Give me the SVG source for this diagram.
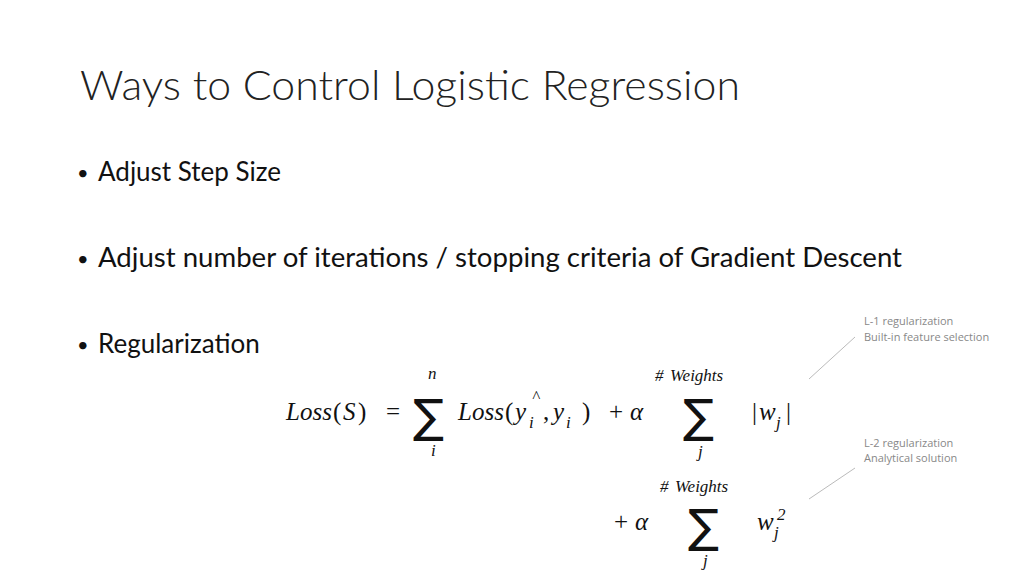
<svg xmlns="http://www.w3.org/2000/svg" width="1024" height="576" viewBox="0 0 1024 576">
<style>
.t{font-family:Lato,"Open Sans",sans-serif;font-weight:300;fill:#222}
.b{font-family:Lato,"Open Sans",sans-serif;font-size:26px;fill:#111}
.m{font-family:"Liberation Serif",serif;font-style:italic;font-size:25px;fill:#111}
.mu{font-family:"Liberation Serif",serif;font-size:25px;fill:#111}
.s{font-family:"DejaVu Sans",sans-serif;font-size:46px;fill:#111}
.sm{font-family:"Liberation Serif",serif;font-style:italic;font-size:17px;fill:#111}
.n{font-family:"Open Sans","Liberation Sans",sans-serif;font-size:11px;fill:#888}
</style>
<rect width="1024" height="576" fill="#fff"/>
<text class="t" x="80" y="100" font-size="42" textLength="660" lengthAdjust="spacingAndGlyphs">Ways to Control Logistic Regression</text>
<g class="b">
<text x="77" y="180" font-size="20">•</text><text x="98" y="181">Adjust Step Size</text>
<text x="77" y="266" font-size="20">•</text><text x="98" y="267" textLength="804" lengthAdjust="spacingAndGlyphs">Adjust number of iterations / stopping criteria of Gradient Descent</text>
<text x="77" y="352" font-size="20">•</text><text x="98" y="353">Regularization</text>
</g>
<g>
<text class="m" x="286" y="420">Loss</text><text class="mu" x="333" y="420">(</text><text class="m" x="343" y="420">S</text><text class="mu" x="358" y="420">)</text><text class="mu" x="386" y="420">=</text>
<text class="s" x="413" y="432">∑</text>
<text class="sm" x="428" y="379">n</text><text class="sm" x="431" y="456">i</text>
<text class="m" x="458" y="420">Loss</text><text class="mu" x="505" y="420">(</text><text class="m" x="515" y="420">y</text>
<text class="sm" x="532" y="402">^</text><text class="sm" x="529" y="428">i</text><text class="mu" x="543" y="420">,</text>
<text class="m" x="553" y="420">y</text><text class="sm" x="566" y="428">i</text><text class="mu" x="582" y="420">)</text>
<text class="mu" x="609" y="420">+</text><text class="m" x="630" y="420">α</text>
<text class="s" x="683" y="432">∑</text>
<text class="sm" x="655" y="381">#</text><text class="sm" x="670" y="381">Weights</text><text class="sm" x="698" y="457">j</text>
<text class="mu" x="752" y="420">|</text><text class="m" x="759" y="420">w</text><text class="sm" x="776" y="428">j</text><text class="mu" x="786" y="420">|</text>
<text class="mu" x="614" y="530">+</text><text class="m" x="635" y="530">α</text>
<text class="s" x="688" y="542">∑</text>
<text class="sm" x="660" y="492">#</text><text class="sm" x="675" y="492">Weights</text><text class="sm" x="703" y="566">j</text>
<text class="m" x="757" y="530">w</text><text class="sm" x="774" y="538">j</text><text class="sm" x="777" y="520">2</text>
</g>
<text class="n" x="864" y="325">L-1 regularization</text>
<text class="n" x="864" y="341">Built-in feature selection</text>
<text class="n" x="864" y="447">L-2 regularization</text>
<text class="n" x="864" y="462">Analytical solution</text>
<g stroke="#bbb" stroke-width="1">
<line x1="855" y1="337" x2="809" y2="379"/>
<line x1="855" y1="468" x2="809" y2="499"/>
</g>
</svg>
